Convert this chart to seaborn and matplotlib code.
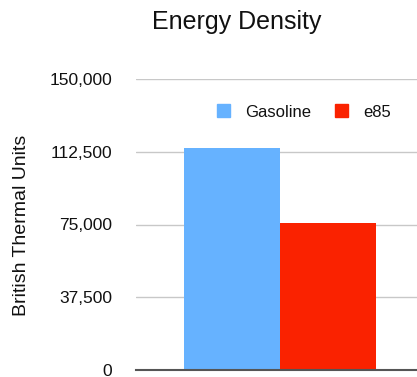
import pandas as pd
import seaborn as sns
import matplotlib.pyplot as plt
from matplotlib.patches import Patch

# Dados
fuels = ['Gasoline', 'e85']
btu = [114300, 75600]
colors = ['#66B2FF', '#FA2200']
yticks = [0, 37500, 75000, 112500, 150000]

df = pd.DataFrame({'fuel': fuels, 'btu': btu})

sns.set_style('white')
plt.rcParams['font.family'] = ['Liberation Sans', 'DejaVu Sans']
plt.rcParams['text.color'] = '#111111'
plt.rcParams['ytick.color'] = '#111111'

fig = plt.figure(figsize=(4.17, 3.77), dpi=100)
ax = fig.add_axes([136 / 417, 7 / 377, (417 - 136) / 417, (370 - 79) / 377])

sns.barplot(data=df, x='fuel', y='btu', hue='fuel', palette=colors,
            width=1.0, dodge=False, legend=False, ax=ax, saturation=1, linewidth=0)

ax.set_xlim(-1.0, 1.93)
ax.set_ylim(0, 150000)
ax.set_yticks(yticks)
ax.set_yticklabels([f'{v:,}' for v in yticks], fontsize=12.5, color='#111111')
ax.set_xticks([])
ax.set_xlabel('')
ax.set_ylabel('')
ax.tick_params(axis='y', length=0, pad=17)
ax.grid(axis='y', color='#C8C8C8', linewidth=1)
ax.set_axisbelow(True)
for s in ['top', 'right', 'left']:
    ax.spines[s].set_visible(False)
ax.spines['bottom'].set_color('#555555')
ax.spines['bottom'].set_linewidth(1.5)
ax.spines['bottom'].set_zorder(5)

fig.text(237 / 417, 1 - 22 / 377, 'Energy Density', ha='center', va='center', fontsize=18)
fig.text(22 / 417, 1 - 225 / 377, 'British Thermal Units', ha='center', va='center',
         rotation=90, fontsize=14)

handles = [Patch(color=c, label=f) for f, c in zip(fuels, colors)]
fig.legend(handles=handles, loc='center', bbox_to_anchor=(304 / 417, 1 - 112 / 377),
           ncol=2, frameon=False, fontsize=12, handlelength=0.8, handleheight=0.8,
           handletextpad=0.9, columnspacing=1.4)

plt.savefig('out.png', dpi=100)
